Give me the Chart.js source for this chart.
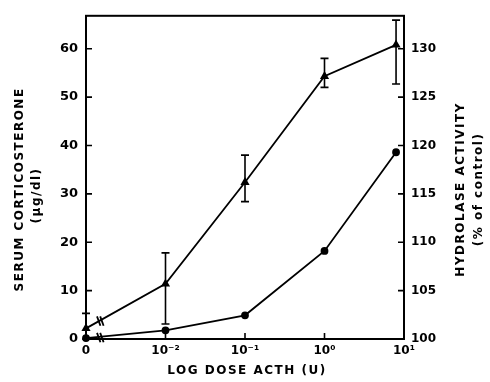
<!DOCTYPE html>
<html>
<head>
<meta charset="utf-8">
<script src="https://cdn.jsdelivr.net/npm/chart.js@4"></script>
<style>
html,body{margin:0;padding:0;background:#fff;}
#wrap{width:490px;height:382px;position:relative;}
</style>
</head>
<body>
<div id="wrap"><canvas id="c" width="490" height="382"></canvas></div>
<script>
// Dose on log10 scale; the zero dose is drawn at the left edge (-3)
const doseLog = [-3, -2, -1, 0, 0.9];
const xTickValues = [-3, -2, -1, 0, 1];
const xTickLabels = ['0', '10\u207B\u00B2', '10\u207B\u00B9', '10\u2070', '10\u00B9'];
// Serum corticosterone (µg/dl), left axis
const cortico = [2.2, 11.4, 32.4, 54.3, 60.8];
const corticoLow = [0, 3.1, 28.4, 52.0, 52.7];
const corticoHigh = [5.3, 17.8, 38.0, 58.0, 65.9];
// Hydrolase activity (% of control), right axis
const hydrolase = [100.1, 100.9, 102.45, 109.1, 119.3];
// Axis break marks near the zero dose
const breakX = [-2.84, -2.80];
const breakLeftValues = [3.7, 0.3];

const leftTitle = ['SERUM CORTICOSTERONE', '(\u00B5g/dl)'];
const rightTitle = ['HYDROLASE ACTIVITY', '(% of control)'];
const xTitle = 'LOG DOSE ACTH (U)';

const FONT = '"DejaVu Sans", sans-serif';

const breakData = [];
breakX.forEach(x => breakLeftValues.forEach(v => breakData.push({x: x, y: v})));

const decor = {
  id: 'decor',
  afterDatasetsDraw(chart) {
    const ctx = chart.ctx;
    const xs = chart.scales.x, yl = chart.scales.y, yr = chart.scales.y1;
    const a = chart.chartArea;
    ctx.save();
    ctx.strokeStyle = '#000';
    ctx.lineWidth = 1.6;
    // error bars
    doseLog.forEach((d, i) => {
      const px = xs.getPixelForValue(d);
      const pLo = yl.getPixelForValue(corticoLow[i]);
      const pHi = yl.getPixelForValue(corticoHigh[i]);
      ctx.beginPath();
      ctx.moveTo(px, pLo); ctx.lineTo(px, pHi);
      ctx.moveTo(px - 4, pHi); ctx.lineTo(px + 4, pHi);
      ctx.moveTo(px - 4, pLo); ctx.lineTo(px + 4, pLo);
      ctx.stroke();
    });
    // frame
    ctx.lineWidth = 2;
    ctx.strokeRect(a.left, a.top, a.right - a.left, a.bottom - a.top);
    // inward ticks
    ctx.lineWidth = 1.6;
    ctx.beginPath();
    yl.ticks.forEach(t => { const p = yl.getPixelForValue(t.value); ctx.moveTo(a.left, p); ctx.lineTo(a.left + 6, p); });
    yr.ticks.forEach(t => { const p = yr.getPixelForValue(t.value); ctx.moveTo(a.right, p); ctx.lineTo(a.right - 6, p); });
    xs.ticks.forEach(t => { const p = xs.getPixelForValue(t.value); ctx.moveTo(p, a.bottom); ctx.lineTo(p, a.bottom - 6); });
    ctx.stroke();
    // titles
    ctx.fillStyle = '#000';
    ctx.font = 'bold 12px ' + FONT;
    ctx.textAlign = 'center';
    ctx.textBaseline = 'middle';
    try { ctx.letterSpacing = '1.5px'; } catch (e) {}
    const cy = (a.top + a.bottom) / 2 + 12;
    ctx.save(); ctx.translate(20, cy); ctx.rotate(-Math.PI / 2); ctx.fillText(leftTitle[0], 0, 0); ctx.restore();
    ctx.save(); ctx.translate(37, cy + 6); ctx.rotate(-Math.PI / 2); ctx.fillText(leftTitle[1], 0, 0); ctx.restore();
    ctx.save(); ctx.translate(461, cy); ctx.rotate(-Math.PI / 2); ctx.fillText(rightTitle[0], 0, 0); ctx.restore();
    ctx.save(); ctx.translate(479, cy); ctx.rotate(-Math.PI / 2); ctx.fillText(rightTitle[1], 0, 0); ctx.restore();
    ctx.fillText(xTitle, (a.left + a.right) / 2 + 2, 371);
    ctx.restore();
  }
};

new Chart(document.getElementById('c'), {
  type: 'scatter',
  data: {
    datasets: [
      {
        data: doseLog.map((d, i) => ({x: d, y: cortico[i]})),
        yAxisID: 'y', showLine: true, borderColor: '#000', borderWidth: 1.8, clip: false,
        pointStyle: 'triangle', pointRadius: 3.5, backgroundColor: '#000', pointBorderColor: '#000'
      },
      {
        data: doseLog.map((d, i) => ({x: d, y: hydrolase[i]})),
        yAxisID: 'y1', showLine: true, borderColor: '#000', borderWidth: 1.8, clip: false,
        pointStyle: 'circle', pointRadius: 3, backgroundColor: '#000', pointBorderColor: '#000'
      },
      {
        data: breakData, yAxisID: 'y', showLine: false, clip: false,
        pointStyle: 'line', rotation: 70, pointRadius: 5, borderColor: '#000', borderWidth: 1.8
      }
    ]
  },
  options: {
    responsive: false, animation: false, devicePixelRatio: 1,
    layout: {padding: {top: 12, left: 0, right: 0, bottom: 0}},
    plugins: {legend: {display: false}, tooltip: {enabled: false}},
    scales: {
      x: {
        type: 'linear', min: -3, max: 1,
        grid: {display: false, drawTicks: false},
        border: {display: true, color: '#000', width: 2},
        afterBuildTicks: s => { s.ticks = xTickValues.map(v => ({value: v})); },
        afterFit: s => { s.height = 43; },
        ticks: {
          padding: 5, color: '#000', maxRotation: 0, autoSkip: false,
          font: {family: FONT, weight: 'bold', size: 12},
          callback: v => { const i = xTickValues.indexOf(v); return i >= 0 ? xTickLabels[i] : ''; }
        }
      },
      y: {
        position: 'left', min: 0, max: 66.8,
        grid: {display: false, drawTicks: false},
        border: {display: true, color: '#000', width: 2},
        afterFit: s => { s.width = 86; },
        ticks: {stepSize: 10, includeBounds: false, padding: 8, color: '#000', font: {family: FONT, weight: 'bold', size: 13}}
      },
      y1: {
        position: 'right', min: 100, max: 133.4,
        grid: {display: false, drawTicks: false},
        border: {display: true, color: '#000', width: 2},
        afterFit: s => { s.width = 86; },
        ticks: {stepSize: 5, includeBounds: false, padding: 7, color: '#000', font: {family: FONT, weight: 'bold', size: 12}}
      }
    }
  },
  plugins: [decor]
});
</script>
</body>
</html>
